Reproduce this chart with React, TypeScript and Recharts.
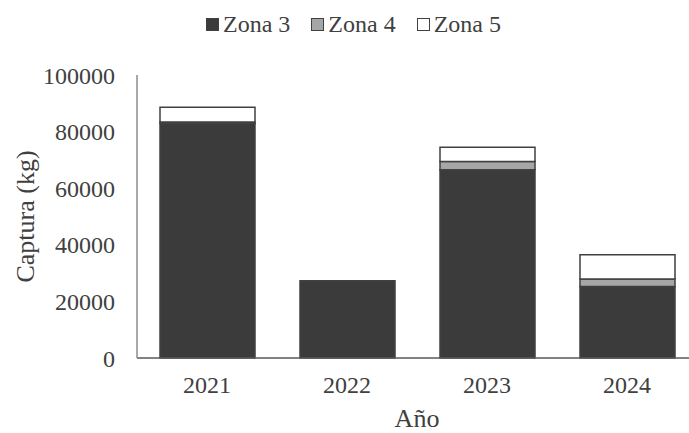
import React from 'react';
import { BarChart, Bar, XAxis, YAxis, Label } from 'recharts';

const years = ['2021', '2022', '2023', '2024'];
const zona3 = [82900, 27300, 66500, 25300];
const zona4 = [500, 0, 2900, 2600];
const zona5 = [5200, 0, 5100, 8600];
const yTicks = [0, 20000, 40000, 60000, 80000, 100000];

const seriesNames = ['Zona 3', 'Zona 4', 'Zona 5'];
const seriesFills = ['#3b3b3b', '#a6a6a6', '#ffffff'];
const outline = '#404040';
const font = "'Liberation Serif', 'DejaVu Serif', serif";

const data = years.map((y, i) => ({ year: y, z3: zona3[i], z4: zona4[i], z5: zona5[i] }));

const LegendRow: React.FC = () => (
  <div
    style={{
      position: 'absolute',
      left: 206,
      top: 12,
      display: 'flex',
      fontFamily: font,
      fontSize: 24,
      lineHeight: '24px',
      color: '#404040',
    }}
  >
    {seriesNames.map((name, i) => (
      <div key={name} style={{ display: 'flex', alignItems: 'center', marginRight: 21 }}>
        <span
          style={{
            width: 11,
            height: 11,
            background: seriesFills[i],
            border: `1.5px solid ${outline}`,
            marginRight: 4,
            display: 'inline-block',
          }}
        />
        <span>{name}</span>
      </div>
    ))}
  </div>
);

export default function App() {
  const tickStyle = { fill: '#404040', fontSize: 24, fontFamily: font };
  return (
    <div style={{ position: 'absolute', left: 0, top: 0, width: 689, height: 433, overflow: 'hidden', background: '#fff', fontFamily: font }}>
      <BarChart width={710} height={433} data={data} margin={{ top: 75, right: 13, bottom: 0, left: 0 }} barSize={95}>
        <XAxis
          dataKey="year"
          height={75}
          tickLine={false}
          axisLine={{ stroke: '#595959', strokeWidth: 1.5 }}
          tick={tickStyle}
          tickMargin={12}
        >
          <Label value="Año" position="insideBottom" offset={6} style={{ fill: '#404040', fontSize: 26, fontFamily: font }} />
        </XAxis>
        <YAxis
          width={137}
          domain={[0, 100000]}
          ticks={yTicks}
          interval={0}
          tickLine={false}
          axisLine={{ stroke: '#8c8c8c', strokeWidth: 1.5 }}
          tick={tickStyle}
          tickMargin={16}
        >
          <Label
            value="Captura (kg)"
            angle={-90}
            position="insideLeft"
            offset={25}
            style={{ fill: '#404040', fontSize: 26, fontFamily: font, textAnchor: 'middle' }}
          />
        </YAxis>
        <Bar dataKey="z3" stackId="a" fill={seriesFills[0]} stroke={outline} strokeWidth={1.5} isAnimationActive={false} />
        <Bar dataKey="z4" stackId="a" fill={seriesFills[1]} stroke={outline} strokeWidth={1.5} isAnimationActive={false} />
        <Bar dataKey="z5" stackId="a" fill={seriesFills[2]} stroke={outline} strokeWidth={1.5} isAnimationActive={false} />
      </BarChart>
      <LegendRow />
    </div>
  );
}
